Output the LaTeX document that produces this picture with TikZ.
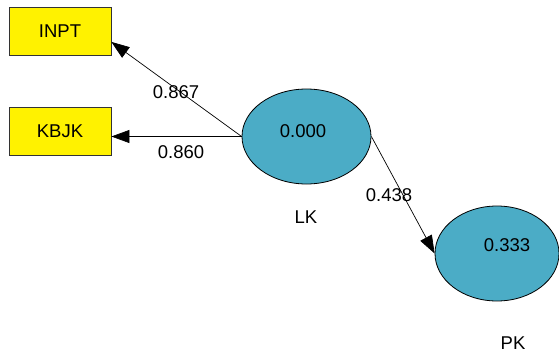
\documentclass[tikz,border=0pt]{standalone}
\usepackage{fontspec}
\setmainfont{Liberation Sans}
\usetikzlibrary{shapes.geometric,arrows.meta}

\definecolor{latentfill}{RGB}{75,172,198}
\tikzset{
  indicator/.style={draw=black!80, line width=0.8pt, fill=yellow, minimum width=102pt, minimum height=48pt, inner sep=0pt},
  latent/.style={ellipse, draw=black, line width=0.8pt, fill=latentfill, minimum width=129pt, minimum height=95pt, inner sep=0pt},
  loading/.style={draw=black, line width=0.7pt, -{Triangle[length=18pt,width=13pt]}},
  txt/.style={font=\fontsize{18.5}{21}\selectfont, inner sep=0pt}
}

\begin{document}
\begin{tikzpicture}[x=1pt,y=-1pt]
    \useasboundingbox (0,0) rectangle (559,353);

    % the two indicators on the left
    \node[indicator, txt] (inpt) at (60,31) {INPT};
    \node[indicator, txt] (kbjk) at (60,131) {KBJK};

    % latent variables with their R^2 inside
    \node[latent] (lk) at (306.5,136.5) {};
    \node[latent, minimum width=124pt] (pk) at (497,253.5) {};
    \node[txt] (lkval) at (303,131) {0.000};
    \node[txt] (pkval) at (507,245) {0.333};
    \node[txt] (lkname) at (306,217) {LK};
    \node[txt] (pkname) at (513,343) {PK};

    % Next, the outer loadings and the path coefficient:
    \draw[loading] (lk.west) -- (inpt.-12);
    \draw[loading] (lk.west) -- (lk.west -| kbjk.east);
    \draw[loading] (lk.east) -- (pk.west);

    \node[txt] (l1) at (176,92) {0.867};
    \node[txt] (l2) at (181,152) {0.860};
    \node[txt] (l3) at (389,195) {0.438};

\end{tikzpicture}
\end{document}
